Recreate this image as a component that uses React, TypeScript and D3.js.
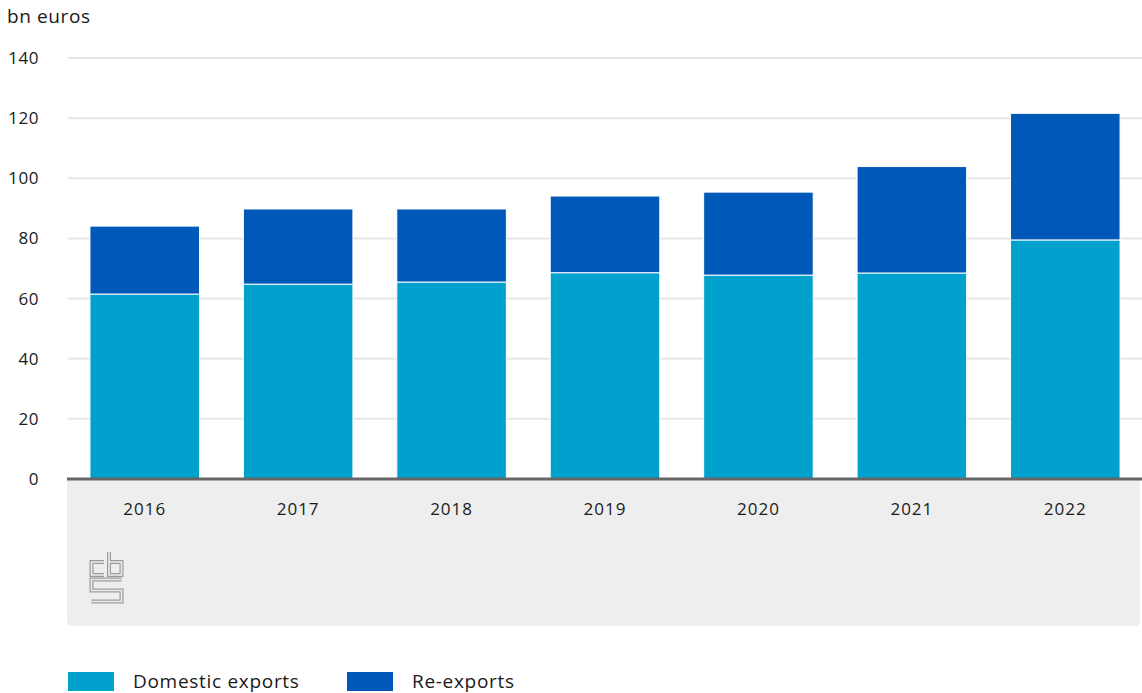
import React from "react";
import * as d3 from "d3";

const years = ["2016", "2017", "2018", "2019", "2020", "2021", "2022"];
const domestic = [61.5, 64.8, 65.5, 68.6, 67.8, 68.5, 79.5];
const reexports = [22.6, 25.0, 24.3, 25.5, 27.6, 35.4, 42.1];
const yTicks = [0, 20, 40, 60, 80, 100, 120, 140];
const seriesNames = ["Domestic exports", "Re-exports"];
const colors = ["#00a1cd", "#0058b8"];

const W = 1142;
const H = 693;
const FONT = "'Open Sans', 'Noto Sans', sans-serif";

export default function App() {
  const x = d3
    .scaleBand<string>()
    .domain(years)
    .range([68, 1142])
    .paddingInner(0.286)
    .paddingOuter(0.143);
  const y = d3.scaleLinear().domain([0, 140]).range([479, 58]);

  const stackData = years.map((yr, i) => ({ year: yr, d: domestic[i], r: reexports[i] }));
  const stack = d3.stack<any>().keys(["d", "r"]);
  const series = stack(stackData);

  return (
    <svg width={W} height={H} style={{ position: "absolute", left: 0, top: 0 }}>
      <rect x={0} y={0} width={W} height={H} fill="#ffffff" />
      <text x={7} y={23} fontFamily={FONT} fontSize={19} letterSpacing={0.6} fill="#1a1a1a">
        bn euros
      </text>
      {/* gray panel under axis */}
      <path d="M67,479 H1140 V620 Q1140,626 1134,626 H73 Q67,626 67,620 Z" fill="#eeeeee" />
      {yTicks.map((t) => (
        <g key={t}>
          {t > 0 && (
            <line x1={68} x2={1142} y1={y(t)} y2={y(t)} stroke="#e6e6e6" strokeWidth={2} />
          )}
          <text
            x={39}
            y={y(t) + 6}
            textAnchor="end"
            fontFamily={FONT}
            fontSize={17}
            letterSpacing={0.5}
            fill="#1a1a1a"
          >
            {t}
          </text>
        </g>
      ))}
      {series.map((s, si) => (
        <g key={si}>
          {s.map((d, i) => (
            <rect
              key={i}
              x={x(years[i])!}
              y={y(d[1])}
              width={x.bandwidth()}
              height={y(d[0]) - y(d[1])}
              fill={colors[si]}
              stroke="#ffffff"
              strokeWidth={1}
            />
          ))}
        </g>
      ))}
      <line x1={67} x2={1142} y1={479} y2={479} stroke="#666666" strokeWidth={3} />
      {years.map((yr) => (
        <text
          key={yr}
          x={x(yr)! + x.bandwidth() / 2}
          y={515}
          textAnchor="middle"
          fontFamily={FONT}
          fontSize={17}
          letterSpacing={1}
          fill="#1a1a1a"
        >
          {yr}
        </text>
      ))}
      {/* cbs logo */}
      <g transform="translate(90,551)" fill="none" strokeLinejoin="miter">
        {[
          { w: 4, c: "#9a9a9a" },
          { w: 1.6, c: "#eeeeee" },
        ].map((st, k) => (
          <g key={k} stroke={st.c} strokeWidth={st.w}>
            <path d="M14,11 H1.5 V24 H14" />
            <path d="M19,1 V24 H31.5 V11 H19" />
            <path d="M31.5,28.5 H1.5 V39.5 H31.5 V50.5 H1.5" />
          </g>
        ))}
      </g>
      {/* legend */}
      {seriesNames.map((n, i) => {
        const lx = i === 0 ? 68 : 347;
        return (
          <g key={n}>
            <rect x={lx} y={672} width={46} height={19} fill={colors[i]} />
            <text
              x={lx + 65}
              y={688}
              fontFamily={FONT}
              fontSize={19}
              letterSpacing={0.7}
              fill="#1a1a1a"
            >
              {n}
            </text>
          </g>
        );
      })}
    </svg>
  );
}
